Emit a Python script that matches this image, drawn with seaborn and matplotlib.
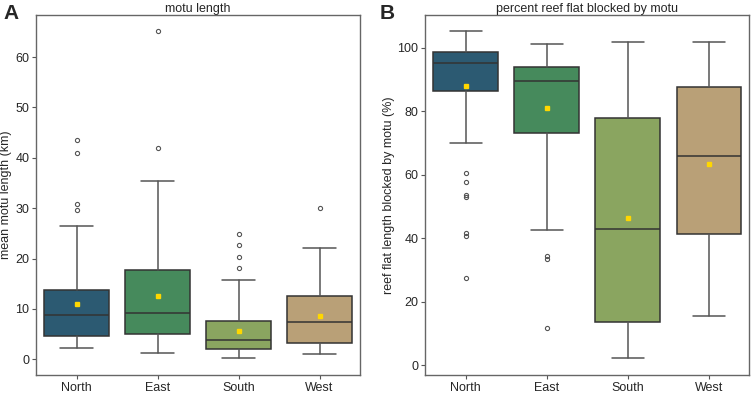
import matplotlib
matplotlib.use("Agg")
import matplotlib.pyplot as plt
import seaborn as sns

# categories and colours
regions = ["North", "East", "South", "West"]
palette = ["#2c5a72", "#468a5c", "#8aa560", "#b9a077"]

# panel A: mean motu length (km), summary stats
len_whislo = [2.2, 1.3, 0.2, 1.0]
len_q1 = [4.6, 5.1, 2.1, 3.2]
len_med = [8.8, 9.2, 3.8, 7.5]
len_q3 = [13.7, 17.7, 7.7, 12.5]
len_whishi = [26.4, 35.4, 15.8, 22.1]
len_mean = [11.0, 12.5, 5.6, 8.7]
len_fliers = [[29.7, 30.9, 41.0, 43.5], [41.9, 65.1], [18.1, 20.3, 22.6, 24.9], [30.0]]

# panel B: percent reef flat blocked by motu
pct_whislo = [70.1, 42.5, 2.2, 15.5]
pct_q1 = [86.3, 73.1, 13.8, 41.5]
pct_med = [95.2, 89.5, 42.9, 66.0]
pct_q3 = [98.7, 94.1, 78.0, 87.7]
pct_whishi = [105.2, 101.2, 101.8, 101.8]
pct_mean = [88.0, 81.0, 46.5, 63.3]
pct_fliers = [[60.5, 57.7, 53.5, 52.9, 41.8, 40.7, 27.5], [34.5, 33.4, 11.8], [], []]


def make_stats(whislo, q1, med, q3, whishi, mean, fliers):
    return [dict(label=r, whislo=a, q1=b, med=c, q3=d, whishi=e, mean=m, fliers=f)
            for r, a, b, c, d, e, m, f in zip(regions, whislo, q1, med, q3, whishi, mean, fliers)]


def draw_panel(ax, stats, title, ylabel):
    parts = ax.bxp(stats, positions=range(len(stats)), widths=0.8, patch_artist=True,
                   showmeans=True,
                   boxprops=dict(edgecolor="#333333", linewidth=1.1),
                   medianprops=dict(color="#333333", linewidth=1.1),
                   whiskerprops=dict(color="#555555", linewidth=1.1),
                   capprops=dict(color="#555555", linewidth=1.1),
                   flierprops=dict(marker="o", markersize=3, markerfacecolor="none",
                                   markeredgecolor="#555555", markeredgewidth=0.8),
                   meanprops=dict(marker="s", markersize=3.5, markerfacecolor="#ffd700",
                                  markeredgecolor="#ffd700"))
    for patch, col in zip(parts["boxes"], palette):
        patch.set_facecolor(col)
    ax.set_xlim(-0.5, len(stats) - 0.5)
    ax.set_xticks(range(len(stats)))
    ax.set_xticklabels(regions)
    ax.set_title(title, fontsize=9, pad=2)
    ax.set_ylabel(ylabel, fontsize=9, labelpad=2)
    ax.tick_params(labelsize=9, color="#555555", length=3, pad=2)
    for s in ax.spines.values():
        s.set_color("#666666")
        s.set_linewidth(1.0)


sns.set_style("ticks")
plt.rcParams["font.family"] = ["Liberation Sans", "DejaVu Sans"]

fig = plt.figure(figsize=(7.54, 3.94), dpi=100)
ax1 = fig.add_axes([0.048, 0.049, 0.4775 - 0.048, 0.962 - 0.049])
ax2 = fig.add_axes([0.564, 0.049, 0.994 - 0.564, 0.962 - 0.049])

draw_panel(ax1, make_stats(len_whislo, len_q1, len_med, len_q3, len_whishi, len_mean, len_fliers),
           "motu length", "mean motu length (km)")
draw_panel(ax2, make_stats(pct_whislo, pct_q1, pct_med, pct_q3, pct_whishi, pct_mean, pct_fliers),
           "percent reef flat blocked by motu", "reef flat length blocked by motu (%)")

fig.text(0.0146, 0.967, "A", fontsize=15, fontweight="bold", ha="center", va="center")
fig.text(0.514, 0.967, "B", fontsize=15, fontweight="bold", ha="center", va="center")

fig.savefig("out.png", dpi=100)
